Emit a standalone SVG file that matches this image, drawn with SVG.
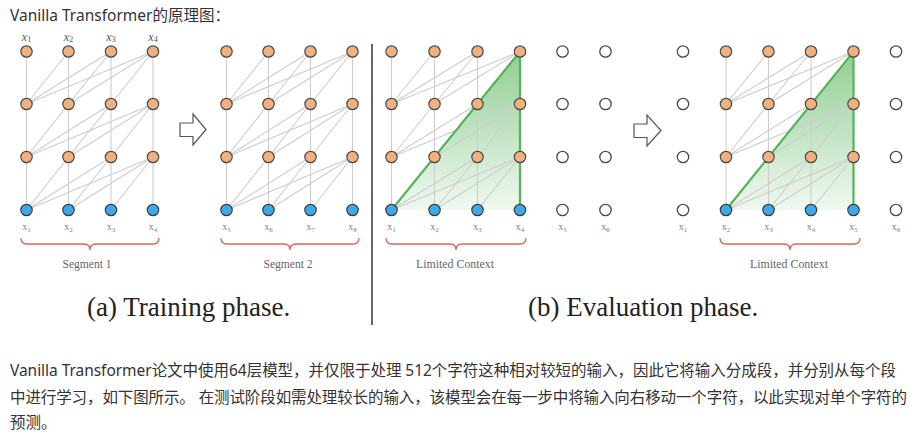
<svg xmlns="http://www.w3.org/2000/svg" width="924" height="439" viewBox="0 0 924 439">
<style>
.bg{fill:#ffffff}
.e line{stroke:#cdcdcd;stroke-width:1.1}
.o{fill:#f0b07f;stroke:#4a4a4a;stroke-width:1.2}
.b{fill:#3fa9e8;stroke:#3a3a3a;stroke-width:1.2}
.w{fill:#ffffff;stroke:#4a4a4a;stroke-width:1.3}
.gl{stroke:#55b35a;stroke-width:2.2;fill:none;stroke-linecap:round}
.br{fill:none;stroke:#d9645c;stroke-width:1.3}
.tl{font-family:"Liberation Serif",serif;font-style:italic;font-size:12px;fill:#555;text-anchor:middle}
.bl{font-family:"Liberation Serif",serif;font-size:10px;fill:#808080;text-anchor:middle}
.sl{font-family:"Liberation Serif",serif;font-size:11.5px;fill:#666;text-anchor:middle}
.cap{font-family:"Liberation Serif",serif;font-size:27px;fill:#222}
.zh{font-family:"Noto Sans","Noto Sans CJK SC",sans-serif;fill:#333}
.arr{fill:#ffffff;stroke:#555;stroke-width:1.2;stroke-linejoin:miter}
</style>
<defs>
<linearGradient id="gg" x1="0" y1="0" x2="0" y2="1">
<stop offset="0" stop-color="#6cbd6e" stop-opacity="0.75"/>
<stop offset="1" stop-color="#6cbd6e" stop-opacity="0.1"/>
</linearGradient>
</defs>
<rect class="bg" x="0" y="0" width="924" height="439"/>
<text class="zh" x="10" y="20.5" font-size="15.5" textLength="220" lengthAdjust="spacing">Vanilla Transformer的原理图：</text>

<!-- green context triangles -->
<polygon points="391.5,210 520,51.5 520,210" fill="url(#gg)"/>
<polygon points="726,210 853.5,51.5 853.5,210" fill="url(#gg)"/>

<g id="connectors" class="e">
<!-- panel 1 -->
<line x1="26.5" y1="51.5" x2="26.5" y2="210"/><line x1="68.5" y1="51.5" x2="68.5" y2="210"/><line x1="111" y1="51.5" x2="111" y2="210"/><line x1="153" y1="51.5" x2="153" y2="210"/>
<line x1="68.5" y1="51.5" x2="26.5" y2="104"/><line x1="111" y1="51.5" x2="26.5" y2="104"/><line x1="111" y1="51.5" x2="68.5" y2="104"/><line x1="153" y1="51.5" x2="26.5" y2="104"/><line x1="153" y1="51.5" x2="68.5" y2="104"/><line x1="153" y1="51.5" x2="111" y2="104"/>
<line x1="68.5" y1="104" x2="26.5" y2="157"/><line x1="111" y1="104" x2="26.5" y2="157"/><line x1="111" y1="104" x2="68.5" y2="157"/><line x1="153" y1="104" x2="26.5" y2="157"/><line x1="153" y1="104" x2="68.5" y2="157"/><line x1="153" y1="104" x2="111" y2="157"/>
<line x1="68.5" y1="157" x2="26.5" y2="210"/><line x1="111" y1="157" x2="26.5" y2="210"/><line x1="111" y1="157" x2="68.5" y2="210"/><line x1="153" y1="157" x2="26.5" y2="210"/><line x1="153" y1="157" x2="68.5" y2="210"/><line x1="153" y1="157" x2="111" y2="210"/>
<!-- panel 2 -->
<line x1="226.5" y1="51.5" x2="226.5" y2="210"/><line x1="268.5" y1="51.5" x2="268.5" y2="210"/><line x1="310.5" y1="51.5" x2="310.5" y2="210"/><line x1="352.5" y1="51.5" x2="352.5" y2="210"/>
<line x1="268.5" y1="51.5" x2="226.5" y2="104"/><line x1="310.5" y1="51.5" x2="226.5" y2="104"/><line x1="310.5" y1="51.5" x2="268.5" y2="104"/><line x1="352.5" y1="51.5" x2="226.5" y2="104"/><line x1="352.5" y1="51.5" x2="268.5" y2="104"/><line x1="352.5" y1="51.5" x2="310.5" y2="104"/>
<line x1="268.5" y1="104" x2="226.5" y2="157"/><line x1="310.5" y1="104" x2="226.5" y2="157"/><line x1="310.5" y1="104" x2="268.5" y2="157"/><line x1="352.5" y1="104" x2="226.5" y2="157"/><line x1="352.5" y1="104" x2="268.5" y2="157"/><line x1="352.5" y1="104" x2="310.5" y2="157"/>
<line x1="268.5" y1="157" x2="226.5" y2="210"/><line x1="310.5" y1="157" x2="226.5" y2="210"/><line x1="310.5" y1="157" x2="268.5" y2="210"/><line x1="352.5" y1="157" x2="226.5" y2="210"/><line x1="352.5" y1="157" x2="268.5" y2="210"/><line x1="352.5" y1="157" x2="310.5" y2="210"/>
<!-- panel 3 -->
<line x1="391.5" y1="51.5" x2="391.5" y2="210"/><line x1="434.5" y1="51.5" x2="434.5" y2="210"/><line x1="477.5" y1="51.5" x2="477.5" y2="210"/><line x1="520" y1="51.5" x2="520" y2="210"/>
<line x1="434.5" y1="51.5" x2="391.5" y2="104"/><line x1="477.5" y1="51.5" x2="391.5" y2="104"/><line x1="477.5" y1="51.5" x2="434.5" y2="104"/><line x1="520" y1="51.5" x2="391.5" y2="104"/><line x1="520" y1="51.5" x2="434.5" y2="104"/><line x1="520" y1="51.5" x2="477.5" y2="104"/>
<line x1="434.5" y1="104" x2="391.5" y2="157"/><line x1="477.5" y1="104" x2="391.5" y2="157"/><line x1="477.5" y1="104" x2="434.5" y2="157"/><line x1="520" y1="104" x2="391.5" y2="157"/><line x1="520" y1="104" x2="434.5" y2="157"/><line x1="520" y1="104" x2="477.5" y2="157"/>
<line x1="434.5" y1="157" x2="391.5" y2="210"/><line x1="477.5" y1="157" x2="391.5" y2="210"/><line x1="477.5" y1="157" x2="434.5" y2="210"/><line x1="520" y1="157" x2="391.5" y2="210"/><line x1="520" y1="157" x2="434.5" y2="210"/><line x1="520" y1="157" x2="477.5" y2="210"/>
<!-- panel 4 -->
<line x1="726" y1="51.5" x2="726" y2="210"/><line x1="768.5" y1="51.5" x2="768.5" y2="210"/><line x1="811" y1="51.5" x2="811" y2="210"/><line x1="853.5" y1="51.5" x2="853.5" y2="210"/>
<line x1="768.5" y1="51.5" x2="726" y2="104"/><line x1="811" y1="51.5" x2="726" y2="104"/><line x1="811" y1="51.5" x2="768.5" y2="104"/><line x1="853.5" y1="51.5" x2="726" y2="104"/><line x1="853.5" y1="51.5" x2="768.5" y2="104"/><line x1="853.5" y1="51.5" x2="811" y2="104"/>
<line x1="768.5" y1="104" x2="726" y2="157"/><line x1="811" y1="104" x2="726" y2="157"/><line x1="811" y1="104" x2="768.5" y2="157"/><line x1="853.5" y1="104" x2="726" y2="157"/><line x1="853.5" y1="104" x2="768.5" y2="157"/><line x1="853.5" y1="104" x2="811" y2="157"/>
<line x1="768.5" y1="157" x2="726" y2="210"/><line x1="811" y1="157" x2="726" y2="210"/><line x1="811" y1="157" x2="768.5" y2="210"/><line x1="853.5" y1="157" x2="726" y2="210"/><line x1="853.5" y1="157" x2="768.5" y2="210"/><line x1="853.5" y1="157" x2="811" y2="210"/>
</g>

<!-- green context edges -->
<polyline class="gl" points="391.5,210 520,51.5 520,210"/>
<polyline class="gl" points="726,210 853.5,51.5 853.5,210"/>

<!-- panel 1 nodes -->
<g id="p1-r0-c0"><circle class="o" cx="26.5" cy="51.5" r="5.7"/></g>
<g id="p1-r0-c1"><circle class="o" cx="68.5" cy="51.5" r="5.7"/></g>
<g id="p1-r0-c2"><circle class="o" cx="111" cy="51.5" r="5.7"/></g>
<g id="p1-r0-c3"><circle class="o" cx="153" cy="51.5" r="5.7"/></g>
<g id="p1-r1-c0"><circle class="o" cx="26.5" cy="104" r="5.7"/></g>
<g id="p1-r1-c1"><circle class="o" cx="68.5" cy="104" r="5.7"/></g>
<g id="p1-r1-c2"><circle class="o" cx="111" cy="104" r="5.7"/></g>
<g id="p1-r1-c3"><circle class="o" cx="153" cy="104" r="5.7"/></g>
<g id="p1-r2-c0"><circle class="o" cx="26.5" cy="157" r="5.7"/></g>
<g id="p1-r2-c1"><circle class="o" cx="68.5" cy="157" r="5.7"/></g>
<g id="p1-r2-c2"><circle class="o" cx="111" cy="157" r="5.7"/></g>
<g id="p1-r2-c3"><circle class="o" cx="153" cy="157" r="5.7"/></g>
<g id="p1-r3-c0"><circle class="b" cx="26.5" cy="210" r="5.7"/></g>
<g id="p1-r3-c1"><circle class="b" cx="68.5" cy="210" r="5.7"/></g>
<g id="p1-r3-c2"><circle class="b" cx="111" cy="210" r="5.7"/></g>
<g id="p1-r3-c3"><circle class="b" cx="153" cy="210" r="5.7"/></g>

<!-- panel 2 nodes -->
<g id="p2-r0-c0"><circle class="o" cx="226.5" cy="51.5" r="5.7"/></g>
<g id="p2-r0-c1"><circle class="o" cx="268.5" cy="51.5" r="5.7"/></g>
<g id="p2-r0-c2"><circle class="o" cx="310.5" cy="51.5" r="5.7"/></g>
<g id="p2-r0-c3"><circle class="o" cx="352.5" cy="51.5" r="5.7"/></g>
<g id="p2-r1-c0"><circle class="o" cx="226.5" cy="104" r="5.7"/></g>
<g id="p2-r1-c1"><circle class="o" cx="268.5" cy="104" r="5.7"/></g>
<g id="p2-r1-c2"><circle class="o" cx="310.5" cy="104" r="5.7"/></g>
<g id="p2-r1-c3"><circle class="o" cx="352.5" cy="104" r="5.7"/></g>
<g id="p2-r2-c0"><circle class="o" cx="226.5" cy="157" r="5.7"/></g>
<g id="p2-r2-c1"><circle class="o" cx="268.5" cy="157" r="5.7"/></g>
<g id="p2-r2-c2"><circle class="o" cx="310.5" cy="157" r="5.7"/></g>
<g id="p2-r2-c3"><circle class="o" cx="352.5" cy="157" r="5.7"/></g>
<g id="p2-r3-c0"><circle class="b" cx="226.5" cy="210" r="5.7"/></g>
<g id="p2-r3-c1"><circle class="b" cx="268.5" cy="210" r="5.7"/></g>
<g id="p2-r3-c2"><circle class="b" cx="310.5" cy="210" r="5.7"/></g>
<g id="p2-r3-c3"><circle class="b" cx="352.5" cy="210" r="5.7"/></g>

<!-- panel 3 nodes -->
<g id="p3-r0-c0"><circle class="o" cx="391.5" cy="51.5" r="5.7"/></g>
<g id="p3-r0-c1"><circle class="o" cx="434.5" cy="51.5" r="5.7"/></g>
<g id="p3-r0-c2"><circle class="o" cx="477.5" cy="51.5" r="5.7"/></g>
<g id="p3-r0-c3"><circle class="o" cx="520" cy="51.5" r="5.7"/></g>
<g id="p3-r0-c4"><circle class="w" cx="562.5" cy="51.5" r="5.7"/></g>
<g id="p3-r0-c5"><circle class="w" cx="605.5" cy="51.5" r="5.7"/></g>
<g id="p3-r1-c0"><circle class="o" cx="391.5" cy="104" r="5.7"/></g>
<g id="p3-r1-c1"><circle class="o" cx="434.5" cy="104" r="5.7"/></g>
<g id="p3-r1-c2"><circle class="o" cx="477.5" cy="104" r="5.7"/></g>
<g id="p3-r1-c3"><circle class="o" cx="520" cy="104" r="5.7"/></g>
<g id="p3-r1-c4"><circle class="w" cx="562.5" cy="104" r="5.7"/></g>
<g id="p3-r1-c5"><circle class="w" cx="605.5" cy="104" r="5.7"/></g>
<g id="p3-r2-c0"><circle class="o" cx="391.5" cy="157" r="5.7"/></g>
<g id="p3-r2-c1"><circle class="o" cx="434.5" cy="157" r="5.7"/></g>
<g id="p3-r2-c2"><circle class="o" cx="477.5" cy="157" r="5.7"/></g>
<g id="p3-r2-c3"><circle class="o" cx="520" cy="157" r="5.7"/></g>
<g id="p3-r2-c4"><circle class="w" cx="562.5" cy="157" r="5.7"/></g>
<g id="p3-r2-c5"><circle class="w" cx="605.5" cy="157" r="5.7"/></g>
<g id="p3-r3-c0"><circle class="b" cx="391.5" cy="210" r="5.7"/></g>
<g id="p3-r3-c1"><circle class="b" cx="434.5" cy="210" r="5.7"/></g>
<g id="p3-r3-c2"><circle class="b" cx="477.5" cy="210" r="5.7"/></g>
<g id="p3-r3-c3"><circle class="b" cx="520" cy="210" r="5.7"/></g>
<g id="p3-r3-c4"><circle class="w" cx="562.5" cy="210" r="5.7"/></g>
<g id="p3-r3-c5"><circle class="w" cx="605.5" cy="210" r="5.7"/></g>

<!-- panel 4 nodes -->
<g id="p4-r0-c0"><circle class="w" cx="683" cy="51.5" r="5.7"/></g>
<g id="p4-r0-c1"><circle class="o" cx="726" cy="51.5" r="5.7"/></g>
<g id="p4-r0-c2"><circle class="o" cx="768.5" cy="51.5" r="5.7"/></g>
<g id="p4-r0-c3"><circle class="o" cx="811" cy="51.5" r="5.7"/></g>
<g id="p4-r0-c4"><circle class="o" cx="853.5" cy="51.5" r="5.7"/></g>
<g id="p4-r0-c5"><circle class="w" cx="896" cy="51.5" r="5.7"/></g>
<g id="p4-r1-c0"><circle class="w" cx="683" cy="104" r="5.7"/></g>
<g id="p4-r1-c1"><circle class="o" cx="726" cy="104" r="5.7"/></g>
<g id="p4-r1-c2"><circle class="o" cx="768.5" cy="104" r="5.7"/></g>
<g id="p4-r1-c3"><circle class="o" cx="811" cy="104" r="5.7"/></g>
<g id="p4-r1-c4"><circle class="o" cx="853.5" cy="104" r="5.7"/></g>
<g id="p4-r1-c5"><circle class="w" cx="896" cy="104" r="5.7"/></g>
<g id="p4-r2-c0"><circle class="w" cx="683" cy="157" r="5.7"/></g>
<g id="p4-r2-c1"><circle class="o" cx="726" cy="157" r="5.7"/></g>
<g id="p4-r2-c2"><circle class="o" cx="768.5" cy="157" r="5.7"/></g>
<g id="p4-r2-c3"><circle class="o" cx="811" cy="157" r="5.7"/></g>
<g id="p4-r2-c4"><circle class="o" cx="853.5" cy="157" r="5.7"/></g>
<g id="p4-r2-c5"><circle class="w" cx="896" cy="157" r="5.7"/></g>
<g id="p4-r3-c0"><circle class="w" cx="683" cy="210" r="5.7"/></g>
<g id="p4-r3-c1"><circle class="b" cx="726" cy="210" r="5.7"/></g>
<g id="p4-r3-c2"><circle class="b" cx="768.5" cy="210" r="5.7"/></g>
<g id="p4-r3-c3"><circle class="b" cx="811" cy="210" r="5.7"/></g>
<g id="p4-r3-c4"><circle class="b" cx="853.5" cy="210" r="5.7"/></g>
<g id="p4-r3-c5"><circle class="w" cx="896" cy="210" r="5.7"/></g>

<!-- top labels -->
<g id="top-labels">
<text class="tl" x="26.5" y="40.5">x<tspan font-size="8" font-style="normal" dy="1.5">1</tspan></text>
<text class="tl" x="68.5" y="40.5">x<tspan font-size="8" font-style="normal" dy="1.5">2</tspan></text>
<text class="tl" x="111" y="40.5">x<tspan font-size="8" font-style="normal" dy="1.5">3</tspan></text>
<text class="tl" x="153" y="40.5">x<tspan font-size="8" font-style="normal" dy="1.5">4</tspan></text>
</g>

<!-- bottom labels -->
<g id="bottom-labels">
<text class="bl" x="26.5" y="230">x<tspan font-size="7" dy="1.5">1</tspan></text>
<text class="bl" x="68.5" y="230">x<tspan font-size="7" dy="1.5">2</tspan></text>
<text class="bl" x="111" y="230">x<tspan font-size="7" dy="1.5">3</tspan></text>
<text class="bl" x="153" y="230">x<tspan font-size="7" dy="1.5">4</tspan></text>
<text class="bl" x="226.5" y="230">x<tspan font-size="7" dy="1.5">5</tspan></text>
<text class="bl" x="268.5" y="230">x<tspan font-size="7" dy="1.5">6</tspan></text>
<text class="bl" x="310.5" y="230">x<tspan font-size="7" dy="1.5">7</tspan></text>
<text class="bl" x="352.5" y="230">x<tspan font-size="7" dy="1.5">8</tspan></text>
<text class="bl" x="391.5" y="230">x<tspan font-size="7" dy="1.5">1</tspan></text>
<text class="bl" x="434.5" y="230">x<tspan font-size="7" dy="1.5">2</tspan></text>
<text class="bl" x="477.5" y="230">x<tspan font-size="7" dy="1.5">3</tspan></text>
<text class="bl" x="520" y="230">x<tspan font-size="7" dy="1.5">4</tspan></text>
<text class="bl" x="562.5" y="230">x<tspan font-size="7" dy="1.5">5</tspan></text>
<text class="bl" x="605.5" y="230">x<tspan font-size="7" dy="1.5">6</tspan></text>
<text class="bl" x="683" y="230">x<tspan font-size="7" dy="1.5">1</tspan></text>
<text class="bl" x="726" y="230">x<tspan font-size="7" dy="1.5">2</tspan></text>
<text class="bl" x="768.5" y="230">x<tspan font-size="7" dy="1.5">3</tspan></text>
<text class="bl" x="811" y="230">x<tspan font-size="7" dy="1.5">4</tspan></text>
<text class="bl" x="853.5" y="230">x<tspan font-size="7" dy="1.5">5</tspan></text>
<text class="bl" x="896" y="230">x<tspan font-size="7" dy="1.5">6</tspan></text>
</g>

<!-- braces -->
<path class="br" d="M21,238 Q21,244 27,244 L84,244 Q90,244 90,250 Q90,244 96,244 L153,244 Q159,244 159,238"/>
<path class="br" d="M221,238 Q221,244 227,244 L284,244 Q290,244 290,250 Q290,244 296,244 L353,244 Q359,244 359,238"/>
<path class="br" d="M386,238 Q386,244 392,244 L450,244 Q456,244 456,250 Q456,244 462,244 L520,244 Q526,244 526,238"/>
<path class="br" d="M720,238 Q720,244 726,244 L784,244 Q790,244 790,250 Q790,244 796,244 L854,244 Q860,244 860,238"/>

<text class="sl" x="87" y="268" textLength="49" lengthAdjust="spacingAndGlyphs">Segment 1</text>
<text class="sl" x="288" y="268" textLength="49" lengthAdjust="spacingAndGlyphs">Segment 2</text>
<text class="sl" x="455" y="268" textLength="78" lengthAdjust="spacingAndGlyphs">Limited Context</text>
<text class="sl" x="789" y="268" textLength="78" lengthAdjust="spacingAndGlyphs">Limited Context</text>

<!-- arrows -->
<polygon class="arr" points="180,123 193,123 193,114 206,129.5 193,145 193,136.5 180,136.5"/>
<polygon class="arr" points="634,124 647,124 647,115 661,130.5 647,146 647,137.5 634,137.5"/>

<!-- divider -->
<line x1="372" y1="44" x2="372" y2="325" stroke="#333" stroke-width="1.5"/>

<!-- captions -->
<text class="cap" x="87" y="316">(a) Training phase.</text>
<text class="cap" x="528" y="316">(b) Evaluation phase.</text>

<!-- paragraph -->
<text class="zh" x="10" y="376" font-size="15.5" textLength="886" lengthAdjust="spacing">Vanilla Transformer论文中使用64层模型，并仅限于处理 512个字符这种相对较短的输入，因此它将输入分成段，并分别从每个段</text>
<text class="zh" x="10" y="403" font-size="15.5" textLength="897" lengthAdjust="spacing">中进行学习，如下图所示。 在测试阶段如需处理较长的输入，该模型会在每一步中将输入向右移动一个字符，以此实现对单个字符的</text>
<text class="zh" x="10" y="428" font-size="15.5">预测。</text>
</svg>
